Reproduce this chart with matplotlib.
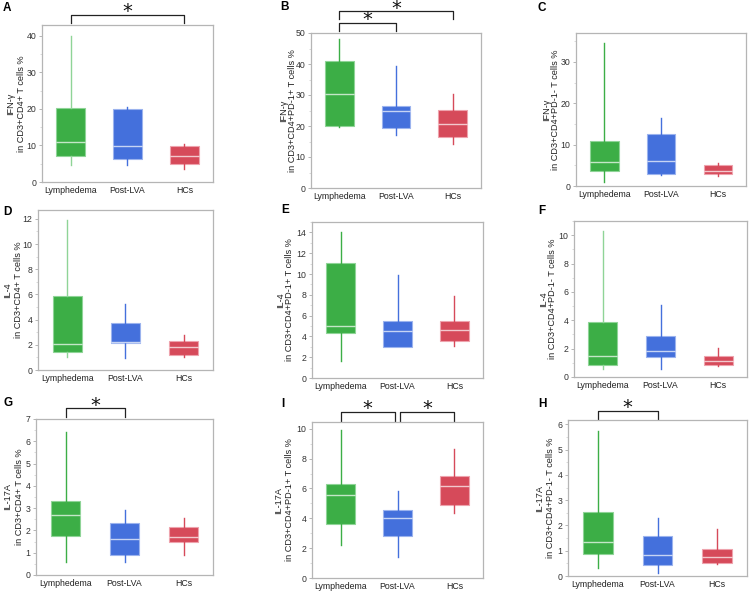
import matplotlib
matplotlib.use("Agg")
import matplotlib.pyplot as plt
from matplotlib.ticker import AutoMinorLocator

plt.rcParams['font.family'] = ['Liberation Sans', 'DejaVu Sans']

groups = ["Lymphedema", "Post-LVA", "HCs"]
colors = ["#3cae46", "#4470dc", "#d64a5a"]
edge_colors = ["#8fd497", "#9bb3ee", "#eea3ad"]

# each group: [whisker low, q1, median, q3, whisker high]
A_vals = [[4.7, 7.2, 10.9, 20.3, 40.0], [4.7, 6.3, 9.8, 20.1, 20.6], [3.6, 4.9, 7.1, 9.8, 10.4]]
B_vals = [[19.6, 19.9, 30.3, 40.9, 48.1], [17.2, 19.2, 24.7, 26.3, 39.2], [14.2, 16.3, 20.6, 25.3, 30.4]]
C_vals = [[1.0, 3.6, 5.8, 11.0, 34.6], [2.6, 2.8, 6.0, 12.5, 16.4], [2.3, 3.0, 3.6, 5.0, 5.6]]
D_vals = [[1.05, 1.4, 2.1, 5.86, 11.9], [0.92, 2.15, 2.25, 3.75, 5.2], [1.0, 1.19, 1.85, 2.32, 2.77]]
E_vals = [[1.6, 4.3, 5.0, 11.05, 14.06], [2.97, 3.0, 4.5, 5.5, 9.9], [3.07, 3.58, 4.6, 5.5, 7.9]]
F_vals = [[0.59, 0.87, 1.46, 3.88, 10.3], [0.54, 1.39, 1.84, 2.9, 5.1], [0.78, 0.82, 1.13, 1.48, 2.07]]
G_vals = [[0.57, 1.77, 2.68, 3.3, 6.42], [0.57, 0.9, 1.6, 2.32, 2.92], [0.9, 1.5, 1.7, 2.17, 2.55]]
I_vals = [[2.22, 3.62, 5.56, 6.29, 9.9], [1.44, 2.82, 4.0, 4.56, 5.84], [4.33, 4.89, 6.18, 6.84, 8.67]]
H_vals = [[0.3, 0.86, 1.33, 2.52, 5.75], [0.1, 0.44, 0.82, 1.58, 2.28], [0.48, 0.53, 0.77, 1.07, 1.85]]

ylabels = {
    "A": "IFN-γ\nin CD3+CD4+ T cells %",
    "B": "IFN-γ\nin CD3+CD4+PD-1+ T cells %",
    "C": "IFN-γ\nin CD3+CD4+PD-1- T cells %",
    "D": "IL-4\nin CD3+CD4+ T cells %",
    "E": "IL-4\nin CD3+CD4+PD-1+ T cells %",
    "F": "IL-4\nin CD3+CD4+PD-1- T cells %",
    "G": "IL-17A\nin CD3+CD4+ T cells %",
    "I": "IL-17A\nin CD3+CD4+PD-1+ T cells %",
    "H": "IL-17A\nin CD3+CD4+PD-1- T cells %",
}

W, H = 749, 592
fig = plt.figure(figsize=(W / 100, H / 100), dpi=100)


def draw_panel(letter, box, vals, ymax, ystep, letter_xy, label_dx, label_ls,
               sigs=(), light_whisk=False):
    l, t, r, b = box
    ax = fig.add_axes([l / W, 1 - b / H, (r - l) / W, (b - t) / H])
    stats = [dict(whislo=v[0], q1=v[1], med=v[2], q3=v[3], whishi=v[4]) for v in vals]
    art = ax.bxp(stats, positions=range(3), widths=0.5, showfliers=False,
                 showcaps=False, patch_artist=True)
    for i in range(3):
        art['boxes'][i].set(facecolor=colors[i], edgecolor=edge_colors[i], linewidth=0.8)
        art['medians'][i].set(color="white", alpha=0.7, linewidth=1.0)
        wc = edge_colors[i] if (light_whisk and i == 0) else colors[i]
        for w in art['whiskers'][2 * i:2 * i + 2]:
            w.set(color=wc, linewidth=1.0)
    ax.set_xlim(-0.5, 2.5)
    ax.set_ylim(0, ymax)
    ax.set_yticks([y * ystep for y in range(int(ymax / ystep) + 1)])
    ax.yaxis.set_minor_locator(AutoMinorLocator(2))
    ax.set_xticks(range(3))
    ax.set_xticklabels(groups)
    ax.tick_params(axis='x', length=0, labelsize=6.3, pad=3, labelcolor="#222222")
    ax.tick_params(axis='y', which='major', length=2.5, width=0.6, color="#aaaaaa",
                   labelsize=6.3, pad=1.5, labelcolor="#333333")
    ax.tick_params(axis='y', which='minor', length=1.5, width=0.5, color="#cccccc")
    for s in ax.spines.values():
        s.set_color("#b5b5b5")
        s.set_linewidth(0.9)
    ax.set_ylabel(ylabels[letter], fontsize=6.6, linespacing=label_ls,
                  color="#222222", va='center', ha='center')
    ax.yaxis.set_label_coords(label_dx / (r - l), 0.5)
    fig.text(letter_xy[0] / W, 1 - letter_xy[1] / H, letter, fontsize=8.5,
             fontweight='bold', ha='left', va='center')
    # significance brackets; heights given in pixels above the axes top
    hpx = b - t
    tr = ax.get_xaxis_transform()
    for x0, x1, line_px, tick_px, star_px in sigs:
        y_line = 1 + line_px / hpx
        y_tick = 1 + tick_px / hpx
        ax.plot([x0, x0, x1, x1], [y_tick, y_line, y_line, y_tick], color="#222222",
                linewidth=0.9, transform=tr, clip_on=False)
        ax.text((x0 + x1) / 2, 1 + (star_px - 2.5) / hpx, "*", fontsize=14,
                ha='center', va='center', family='DejaVu Sans', color="#111111",
                transform=tr, clip_on=False)
    return ax


draw_panel("A", (42, 25, 213, 182), A_vals, 43, 10, (3, 8), -26, 1.35,
           [(0, 2, 10, 2, 16)], light_whisk=True)
draw_panel("B", (311, 33, 481, 188), B_vals, 50, 10, (280, 7), -23, 1.0,
           [(0, 1, 10, 2, 16), (0, 2, 22, 14, 27)])
draw_panel("C", (576, 33, 746, 186), C_vals, 37, 10, (538, 8), -25, 1.0)
draw_panel("D", (38, 210, 213, 370), D_vals, 12.7, 2, (3, 212), -25, 1.3,
           light_whisk=True)
draw_panel("E", (312, 222, 483, 378), E_vals, 15, 2, (281, 210), -27, 1.0)
draw_panel("F", (574, 221, 747, 377), F_vals, 11, 2, (538, 211), -26, 1.1,
           light_whisk=True)
draw_panel("G", (36, 419, 213, 575), G_vals, 7, 1, (3, 403), -22, 1.4,
           [(0, 1, 11, 2, 16)])
draw_panel("I", (312, 422, 483, 578), I_vals, 10.45, 2, (281, 404), -28, 1.15,
           [(0, 0.95, 10, 1, 16), (1.05, 2, 10, 1, 16)])
draw_panel("H", (568, 420, 747, 576), H_vals, 6.17, 1, (538, 404), -23, 1.3,
           [(0, 1, 9, 1, 15)])

fig.savefig("out.png", dpi=100)
